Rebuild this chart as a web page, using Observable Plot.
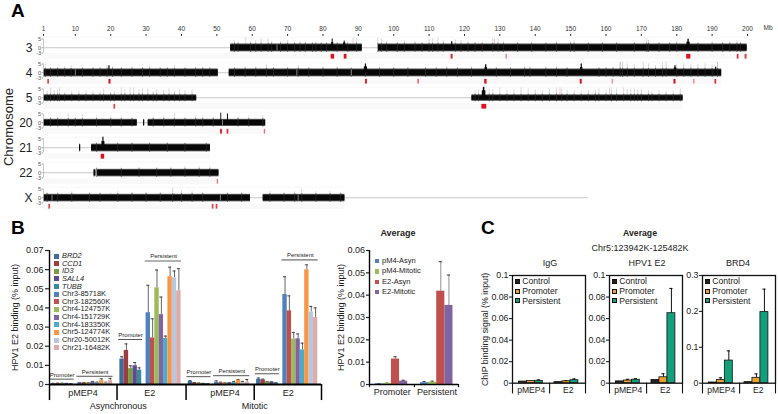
<!DOCTYPE html>
<html><head><meta charset="utf-8">
<script src="https://cdn.jsdelivr.net/npm/d3@7"></script>
<script src="https://cdn.jsdelivr.net/npm/@observablehq/plot@0.6"></script>
<style>
html,body{margin:0;padding:0;background:#fff}
#root{position:relative;width:778px;height:414px;overflow:hidden;font-family:"Liberation Sans",Arial,sans-serif;color:#222}
#root svg{position:absolute}
.t{position:absolute;white-space:nowrap;line-height:1}
.sw{position:absolute}
</style></head><body><div id="root"></div>
<script>
// ---------- Panel A data (Mb) ----------
const chromosomes = ["3","4","5","20","21","22","X"];
const chromEnds   = [200,192.7,181.8,63.8,48.2,50.6,155];
const tickMb      = [1,10,20,30,40,50,60,70,80,90,100,110,120,130,140,150,160,170,180,190,200];
const regions3  = [[53.9,91.1],[95.7,199.9]];
const regions4  = [[1.2,50.4],[53.5,192.7]];
const regions5  = [[1.2,44.3],[122.1,181.8]];
const regions20 = [[1.2,27.5],[29.3,29.6],[30.6,63.8]];
const regions21 = [[11.2,11.5],[14.6,48.2]];
const regions22 = [[15.3,15.8],[16.3,50.6]];
const regionsX  = [[1.2,59.5],[63.1,86.2]];
const bandTop   = [1.6,1.6,1.1,1.4,1.5,1.4,1.4];
const bandLow   = [-1.8,-1.8,-1.5,-1.6,-1.8,-1.8,-1.8];
const notches3 = [67,92.9], notches4 = [10,72.6,88], notches20 = [51.6], notches5 = [], notchesX = [3.4,51,73], notches21 = [], notches22 = [];
const spikes3 = [[55,4],[56,3.5],[59.5,3.5],[61,4],[62.5,5],[64.5,5],[65.5,3.5],[68,3.5],[70,4],[72,3],[73.5,3.5],[75,3.2],[77,3],[78,3.4],[79.5,3],[81,3],[84,3.2],[87,3.2],[89.5,5],[95.5,5.5],[96.5,5],[98,3.5],[101,3],[103,4],[106,3.5],[108,3],[110,5],[111,5],[112.5,5.5],[114,4],[117.5,4.5],[119,4],[121,3.5],[123,3],[125,3.2],[128,5],[129.5,5],[131,3.5],[135,3],[139,3.2],[143,3],[146,3.5],[150,3.2],[151,4],[155,3],[159,3],[163,3.2],[168,3],[171.5,5],[172,4.2],[175,3],[178,3],[180,3.5],[186,3],[190,3.5],[193,3],[195,3.5],[197,4],[198,3]];
const spikes4 = [[1.5,5],[3,3],[5,3],[7,3.5],[8.8,4],[12,2.8],[15,3],[17,3.2],[19,4],[20.5,3.5],[23,3],[26,3.5],[29,3],[31,3.5],[34,3.2],[36,3],[38,4],[41,3],[44,3.2],[46,3],[48,3.2],[55,3],[58,3.5],[61,3.5],[64,4.5],[66,3],[70,3],[73,4],[76,3],[80,3.5],[84,3.5],[88,3],[92,3],[96,3.2],[100,3],[104,3],[109,3],[112,3.2],[115,3.5],[118,3],[122,3.5],[129,3],[133,3.2],[137,3.5],[138.5,3.5],[143,3.5],[146,3.5],[149,3.2],[158,3],[160,3],[162,3.2],[164,6],[164.7,6],[166,5],[168,4.5],[170.5,6],[172,5],[174,4],[176,5.5],[177,6],[180,5],[182,5],[184,4.5],[186,4.5],[188,5],[190,4.5],[191.5,6]];
const spikes5 = [[2,3.5],[3,5.5],[4,4],[5,4.5],[5.5,5.5],[7,3],[9,3.5],[11,3.5],[13,4],[15,3.5],[17,3.5],[18,5],[20,3],[21,3.5],[23,5.5],[24,4.5],[25.5,5.5],[26.5,5.5],[28,4.5],[29,5],[30.5,5],[32,3.5],[33,4.5],[35,4],[36.5,5],[38,3.5],[39.5,4.5],[41,4],[43,4.5],[123,4],[124,4.5],[127,5],[128,4.5],[130,5.5],[132,4],[134,4.5],[136,5.5],[138,5],[140,4.5],[142,4],[144,4.5],[146,5.5],[147.5,5],[149,4],[151,4],[153,3.5],[155,4],[157,4],[158,5],[160,4],[161.5,5.5],[163,5],[165,5.5],[167,5],[168,5],[169,4.5],[170,5],[172,4],[173,3.5],[175,4],[177,3.5],[179,3.5],[181,5]];
const spikes20 = [[3,3],[5,3],[8,5],[10,2.8],[12,4.5],[16,3.5],[20,3.2],[23,3],[26,3],[32,3],[35,3.2],[38,5.5],[41,3],[44,3.5],[46,3.5],[49,3.2],[56,3],[59,3.5],[63,4]];
const spikes21 = [[16,3],[22,3],[26,3],[31,3],[36,3],[41,2.8],[47,3]];
const spikes22 = [[16,3],[23,2.8],[28,3],[33,3],[37,3.2],[41,3.5],[45,3.5],[48,3.2]];
const spikesX  = [[2,3],[5,3.2],[9,3.5],[14,3],[17,3],[22,3.5],[26,3],[30,3],[34,3],[37.5,5.5],[40,4],[43,3.5],[46,3.2],[53,3],[57,3],[65,3.5],[69,3],[72,3.5],[74,5],[78,3.5],[82,3.5],[85,3]];
const pinkSpikes3 = [[58.2,5.8],[88.5,5.5],[128.5,5]], pinkSpikes4 = [[66,2.5],[73,2.5],[191.5,6],[164,6]], pinkSpikes5 = [[147,5.5],[161,5.5],[166,5]], pinkSpikesX = [[20,2.6],[26,2.6],[30,2.6],[38,2.6]];
// [chromosome, peak position, peak height, peak strength]
const peaks = [["3",82.6,5,1],["3",82.6,3,2],["3",86,3.8,1],["3",86,2.8,2.2],["3",116.4,3.4,1.2],["3",183.2,4.8,1.4],["3",183.2,3.2,3.2],["4",19.5,4,1.2],["4",92,5,1.2],["4",92,3.4,3.2],["4",126,4.6,1.3],["4",126,3,2.4],["4",153,5,1.2],["4",153,3,2.4],["4",179.5,4,1.2],["4",179.5,2.8,2.2],["4",191,3.2,1.2],["5",125.4,6,1.6],["5",125.4,4,3.6],["20",51.1,5.5,.9],["20",53,5,1],["21",17.8,6,1.2],["21",17.8,3.6,3]];
// [chromosome, start, end, opacity]
const redMarks = [["3",82.4,83.2,1],["3",86.1,86.7,1],["3",116.3,116.7,.9],["3",131.8,132.1,.45],["3",182.9,183.9,1],["3",197.2,197.5,.9],["3",199.4,199.8,.8],
 ["4",2.3,2.6,.8],["4",19.6,20,1],["4",92.1,92.5,.9],["4",106.9,107.2,.6],["4",125.8,126.3,1],["4",152.8,153.2,1],["4",161.8,162.1,.4],["4",179.3,179.7,1],["4",184.8,185.1,.4],["4",190.9,191.2,.9],
 ["5",21,21.3,.8],["5",125,126.2,1],["20",51.1,51.5,.9],["20",53,53.3,.9],["20",63.5,63.7,.6],["21",17.4,18.2,1],["22",50.2,50.4,.6],["X",2.6,2.9,.8],["X",48.8,49.1,.8],["X",49.9,50.2,.8]];

// ---------- Panel B data ----------
const siteNames = ["BRD2","CCD1","ID3","SALL4","TUBB","Chr3-85718K","Chr3-182560K","Chr4-124757K","Chr4-151729K","Chr4-183350K","Chr5-124774K","Chr20-50012K","Chr21-16482K"];
const siteColors = ["#3f6c9c","#9c3d40","#7c9a42","#5f4b8b","#3a8a9e","#4f81bd","#c0504d","#9bbb59","#8064a2","#4bacc6","#f79646","#b9c6de","#dcabab"];
const groupNames = ["pMEP4","E2","pMEP4","E2"];
const asynPMEP4  = [.0004,.0005,.0005,.0004,.0003,.0008,.0008,.0008,.0012,.0008,.002,.0008,.0022];
const asynPMEP4E = [.0006,.0007,.0007,.0006,.0005,.001,.001,.001,.0016,.0012,.003,.0012,.0032];
const asynE2     = [.0133,.0178,.0083,.0098,.0075,.0375,.0243,.0505,.0365,.024,.0563,.0557,.049];
const asynE2E    = [.0145,.0212,.0098,.0115,.0087,.0518,.0343,.0598,.0457,.0253,.0613,.0593,.0605];
const mitPMEP4   = [.0016,.0008,.0006,.0004,.0004,.0012,.0008,.0008,.0008,.001,.0022,.001,.0012];
const mitPMEP4E  = [.002,.001,.0008,.0006,.0005,.0019,.0012,.001,.001,.0016,.0026,.0016,.0026];
const mitE2      = [.0027,.0024,.0013,.0012,.0008,.047,.0385,.0237,.0239,.0181,.0599,.0378,.035];
const mitE2E     = [.0034,.0028,.0015,.0014,.001,.0563,.0463,.0272,.0264,.0216,.0625,.0408,.04];
// group, label, line level
const bracketRows = [[0,"Promoter",.0028],[0,"Persistent",.0043],[1,"Promoter",.0235],[1,"Persistent",.0645],[2,"Promoter",.0041],[2,"Persistent",.0046],[3,"Promoter",.0056],[3,"Persistent",.0651]];
// Average
const avgSeries = ["pM4-Asyn","pM4-Mitotic","E2-Asyn","E2-Mitotic"];
const avgColors = ["#4f81bd","#9bbb59","#c0504d","#8064a2"];
const avgPromoter  = [.0003,.0005,.0114,.0015];
const avgPromoterE = [.0004,.0006,.0124,.0019];
const avgPersist   = [.0008,.001,.0418,.0354];
const avgPersistE  = [.0013,.0015,.055,.049];

// ---------- Panel C data ----------
const cSeries = ["Control","Promoter","Persistent"];
const cColors = ["#222222","#e8a02e","#12a07c"];
const iggPM = [.0015,.002,.0022],  iggPME = [.0017,.0023,.0031];
const iggE2 = [.001,.0018,.0028],  iggE2E = [.0012,.0024,.004];
const hpvPM = [.0017,.0025,.0032], hpvPME = [.002,.0036,.0042];
const hpvE2 = [.003,.0055,.065],   hpvE2E = [.0034,.0088,.088];
const brdPM = [.002,.009,.063],    brdPME = [.0025,.015,.09];
const brdE2 = [.003,.015,.198],    brdE2E = [.0035,.026,.262];

const FONT = '"Liberation Sans",Arial,sans-serif';
const root = document.getElementById("root");
const noBg = (left, top) => ({background:"none", overflow:"visible", left:left+"px", top:top+"px", fontFamily:FONT, maxWidth:"none"});
function label(x, y, s, o = {}) {
  const d = document.createElement("div"); d.className = "t"; d.textContent = s;
  const a = o.anchor || "middle";
  d.style.left = x + "px"; d.style.top = y + "px";
  d.style.transform = `translate(${a === "middle" ? "-50%" : "0"},-50%)` + (o.rotate ? ` rotate(${o.rotate}deg)` : "");
  d.style.fontSize = (o.size || 9) + "px";
  if (o.bold) d.style.fontWeight = "bold";
  if (o.italic) d.style.fontStyle = "italic";
  if (o.color) d.style.color = o.color;
  root.appendChild(d);
}
function swatch(x, y, c, s, border) {
  const d = document.createElement("div"); d.className = "sw";
  d.style.cssText = `left:${x - s/2}px;top:${y - s/2}px;width:${s}px;height:${s}px;background:${c};box-sizing:border-box;` + (border ? "border:.8px solid #111;" : "");
  root.appendChild(d);
}
const fmt = d => d === 0 ? "0" : String(d);

// ---------- Panel A ----------
const regionList = [regions3,regions4,regions5,regions20,regions21,regions22,regionsX];
const spikeList  = [spikes3,spikes4,spikes5,spikes20,spikes21,spikes22,spikesX];
const notchList  = [notches3,notches4,notches5,notches20,notches21,notches22,notchesX];
const pinkList   = {"3":pinkSpikes3,"4":pinkSpikes4,"5":pinkSpikes5,"X":pinkSpikesX};
const regionRows = chromosomes.flatMap((c,i)=>regionList[i].map(([a,b])=>({chr:c,a,b,top:bandTop[i],low:bandLow[i]})));
const spikeRows  = chromosomes.flatMap((c,i)=>spikeList[i].map(([mb,h])=>({chr:c,mb,h,top:bandTop[i],low:bandLow[i]})));
const notchRows  = chromosomes.flatMap((c,i)=>notchList[i].map(mb=>({chr:c,mb,top:bandTop[i],low:bandLow[i]})));
const pinkRows   = Object.entries(pinkList).flatMap(([c,l])=>l.map(([mb,h])=>({chr:c,mb,h})));
const lengthRows = chromosomes.map((c,i)=>({chr:c,end:chromEnds[i],shade:c==="X"?86.2:chromEnds[i]}));
const peakRows   = peaks.map(([chr,mb,h,w])=>({chr,mb,h,w}));
const redRows    = redMarks.map(([chr,a,b,o])=>({chr,a,b,o}));

const pA = Plot.plot({
  width:778, height:214, marginLeft:43, marginRight:31, marginTop:35, marginBottom:4,
  x:{domain:[1,200]}, y:{domain:[-7.3,7]}, fy:{domain:chromosomes, padding:0, axis:null},
  style:noBg(0,0),
  marks:[
    Plot.rect(lengthRows,{x1:1,x2:"shade",y1:-6.8,y2:-3.4,fy:"chr",fill:"#f9f9f9"}),
    Plot.ruleY(lengthRows,{x1:1,x2:"shade",y:6,fy:"chr",stroke:"#f2f2f2",strokeWidth:.6}),
    Plot.ruleY(lengthRows,{x1:1,x2:"end",y:0,fy:"chr",stroke:"#c8c8c8",strokeWidth:1}),
    Plot.ruleX(spikeRows,{x:"mb",y1:0,y2:"h",fy:"chr",stroke:"#bbb",strokeWidth:.6}),
    Plot.ruleX(pinkRows,{x:"mb",y1:0,y2:"h",fy:"chr",stroke:"#dba6a6",strokeWidth:.6}),
    Plot.rect(regionRows,{x1:"a",x2:"b",y1:d=>d.low-.55,y2:d=>d.top+.55,fy:"chr",fill:"#555"}),
    Plot.rect(regionRows,{x1:"a",x2:"b",y1:"low",y2:"top",fy:"chr",fill:"#070707"}),
    Plot.ruleX(spikeRows,{x:"mb",y1:d=>d.low-.9,y2:d=>d.top+.9,fy:"chr",stroke:"#333",strokeWidth:.6}),
    Plot.ruleX(peakRows,{x:"mb",y1:0,y2:"h",fy:"chr",stroke:"#0a0a0a",strokeWidth:"w"}),
    Plot.ruleX(notchRows,{x:"mb",y1:"low",y2:"top",fy:"chr",stroke:"#fff",strokeWidth:.6,strokeOpacity:.8}),
    Plot.rect(redRows,{x1:"a",x2:"b",y1:-6.5,y2:-3.8,fy:"chr",fill:"#e3101a",fillOpacity:"o",insetLeft:-.3,insetRight:-.3}),
    Plot.ruleX(lengthRows,{x:1,y1:-3,y2:5,fy:"chr",stroke:"#999",strokeWidth:.5}),
    Plot.axisY({ticks:[-3,0,5],tickFormat:fmt,tickSize:1.5,tickPadding:1,fontSize:5.5,label:null,color:"#555",strokeWidth:.5}),
    Plot.axisX({anchor:"top",ticks:tickMb,tickFormat:d=>String(d),tickSize:2,tickPadding:3,fontSize:6.5,label:null,color:"#333"}),
    Plot.axisFy({anchor:"left",tickSize:0,tickPadding:11,fontSize:12,label:null,color:"#222"})
  ]
});
root.appendChild(pA);
label(11,10,"A",{anchor:"start",size:19,bold:true,color:"#000"});
label(768,28,"Mb",{size:6.5,color:"#333"});
label(8,127,"Chromosome",{size:13,rotate:-90});

// ---------- Panel B main ----------
const SLOT = 4.37, GROUP = 15.65;
const slotOf = i => i + (i >= 5 ? 1 : 0);
const sets = [[asynPMEP4,asynPMEP4E],[asynE2,asynE2E],[mitPMEP4,mitPMEP4E],[mitE2,mitE2E]];
const bRows = sets.flatMap(([v,e],g)=>siteNames.map((site,i)=>({site,g,s:g*GROUP+slotOf(i),v:v[i],e:e[i],c:siteColors[i]})));
const brRows = bracketRows.map(([g,name,y])=>name==="Promoter"
  ? {name,y,a:g*GROUP-.3,b:g*GROUP+5.2,mid:g*GROUP+2.45}
  : {name,y,a:g*GROUP+6-.2,b:g*GROUP+14.1,mid:g*GROUP+10});
const bEdges = [-.46,15,30.8,46.4,61.8];
const bGroupRows = groupNames.map((name,g)=>({name,mid:[7.2,22.5,39.7,54.2][g]}));
const bSuperRows = [{name:"Asynchronous",mid:15.3},{name:"Mitotic",mid:46.5}];
const bLineColor = y => y > .05 ? "#999" : "#444";
const pB = Plot.plot({
  width:330, height:184, marginLeft:49, marginRight:9, marginTop:20, marginBottom:30,
  x:{domain:[-.46,61.8], axis:null}, y:{domain:[0,.07], axis:null},
  style:noBg(0,230),
  marks:[
    Plot.ruleX(bRows,{x:d=>d.s+.5,y1:"v",y2:"e",stroke:"#666",strokeWidth:1}),
    Plot.ruleY(bRows,{x1:d=>d.s+.15,x2:d=>d.s+.85,y:"e",stroke:"#333",strokeWidth:.9}),
    Plot.rect(bRows,{x1:"s",x2:d=>d.s+1,y1:0,y2:"v",fill:"c"}),
    Plot.ruleY(brRows,{x1:"a",x2:"b",y:"y",stroke:d=>bLineColor(d.y),strokeWidth:d=>d.y>.05?1.6:.9}),
    Plot.text(brRows,{x:"mid",y:"y",text:"name",dy:-4.5,fontSize:6,fill:"#222"}),
    Plot.ruleY([0],{stroke:"#000",strokeWidth:2}),
    Plot.ruleX(bEdges,{y1:0,y2:-.0084,stroke:"#000",strokeWidth:1.5}),
    Plot.ruleX([-.46],{y1:0,y2:.07,stroke:"#000",strokeWidth:1.4}),
    Plot.text(bGroupRows,{x:"mid",y:-.0047,text:"name",fontSize:9,fill:"#222"}),
    Plot.text(bSuperRows,{x:"mid",y:-.0112,text:"name",fontSize:9,fill:"#222"}),
    Plot.axisY({ticks:[0,.01,.02,.03,.04,.05,.06,.07],tickFormat:fmt,tickSize:4,tickPadding:2,fontSize:9,color:"#222",strokeWidth:1.2,
      label:"HPV1 E2 binding (% input)",labelAnchor:"center",labelArrow:"none",labelOffset:38})
  ]
});
root.appendChild(pB);
label(11,227,"B",{anchor:"start",size:19,bold:true,color:"#000"});
siteNames.forEach((s,i)=>{
  const y = 256 + i*7.64;
  swatch(56.5,y,siteColors[i],5);
  label(62,y,s,{anchor:"start",size:7.4,italic:i<5});
});

// ---------- Panel B average ----------
const PERS = 5.57;
const avgRows = [[avgPromoter,avgPromoterE,0],[avgPersist,avgPersistE,PERS]]
  .flatMap(([v,e,off])=>avgSeries.map((n,i)=>({n,s:off+i,v:v[i],e:e[i],c:avgColors[i]})));
const pAvg = Plot.plot({
  width:140, height:184, marginLeft:49, marginRight:2, marginTop:20, marginBottom:30,
  x:{domain:[-.7,10.25],axis:null}, y:{domain:[0,.06],axis:null},
  style:noBg(320,230),
  marks:[
    Plot.ruleX(avgRows,{x:d=>d.s+.5,y1:"v",y2:"e",stroke:"#999",strokeWidth:1.1}),
    Plot.ruleY(avgRows,{x1:d=>d.s+.3,x2:d=>d.s+.7,y:"e",stroke:"#222",strokeWidth:.9}),
    Plot.rect(avgRows,{x1:"s",x2:d=>d.s+1,y1:0,y2:"v",fill:"c"}),
    Plot.ruleY([0],{stroke:"#000",strokeWidth:1.6}),
    Plot.ruleX([-.7,4.83,10.25],{y1:0,y2:-.0014,stroke:"#000",strokeWidth:1.2}),
    Plot.ruleX([-.7],{y1:0,y2:.06,stroke:"#000",strokeWidth:1.4}),
    Plot.text([{n:"Promoter",m:2.1},{n:"Persistent",m:7.6}],{x:"m",y:-.0036,text:"n",fontSize:9,fill:"#222"}),
    Plot.axisY({ticks:[0,.01,.02,.03,.04,.05,.06],tickFormat:fmt,tickSize:3,tickPadding:1.5,fontSize:9,color:"#222",strokeWidth:1.2,
      label:"HPV1 E2 binding (% input)",labelAnchor:"center",labelArrow:"none",labelOffset:32})
  ]
});
root.appendChild(pAvg);
label(398,233,"Average",{size:9,bold:true});
avgSeries.forEach((s,i)=>{
  const y = 261 + i*10.4;
  swatch(377,y,avgColors[i],4.5);
  label(382,y,s,{anchor:"start",size:7.5});
});

// ---------- Panel C ----------
const E2OFF = 4.46;
function cPanel(left, yMax, yTicks, pm, pmE, e2, e2E, withLabel) {
  const rows = [[pm,pmE,0],[e2,e2E,E2OFF]].flatMap(([v,e,off])=>cSeries.map((n,i)=>({n,s:off+i,v:v[i],e:e[i],c:cColors[i]})));
  const p = Plot.plot({
    width:116, height:150, marginLeft:40, marginRight:3, marginTop:20, marginBottom:22.3,
    x:{domain:[-.8,8.35],axis:null}, y:{domain:[0,yMax],axis:null},
    style:noBg(left-40,255),
    marks:[
      Plot.ruleX(rows.filter(d=>d.e-d.v>yMax*.004),{x:d=>d.s+.5,y1:"v",y2:"e",stroke:"#111",strokeWidth:1}),
      Plot.ruleY(rows.filter(d=>d.e-d.v>yMax*.004),{x1:d=>d.s+.3,x2:d=>d.s+.7,y:"e",stroke:"#111",strokeWidth:1}),
      Plot.rect(rows,{x1:"s",x2:d=>d.s+1,y1:0,y2:"v",fill:"c",stroke:"#111",strokeWidth:.8}),
      Plot.frame({stroke:"#111",strokeWidth:1.3}),
      Plot.ruleX([-.8,3.85,8.35],{y1:0,y2:-yMax*.1,stroke:"#111",strokeWidth:1.1}),
      Plot.text([{n:"pMEP4",m:1.55},{n:"E2",m:6.2}],{x:"m",y:-yMax*.068,text:"n",fontSize:8.6,fill:"#222"}),
      Plot.axisY({ticks:yTicks,tickFormat:fmt,tickSize:3,tickPadding:1,fontSize:8.8,color:"#222",strokeWidth:1.1,
        label:withLabel?"ChIP binding signal (% input)":null,labelAnchor:"center",labelArrow:"none",labelOffset:31})
    ]
  });
  root.appendChild(p);
  cSeries.forEach((s,i)=>{
    const y = 281.3 + i*9.7;
    swatch(left+5,y,cColors[i],5,true);
    label(left+10.3,y,s,{anchor:"start",size:8.6});
  });
}
cPanel(512,.1,[0,.02,.04,.06,.08,.1],iggPM,iggPME,iggE2,iggE2E,true);
cPanel(609,.1,[0,.02,.04,.06,.08,.1],hpvPM,hpvPME,hpvE2,hpvE2E,false);
cPanel(702,.3,[0,.1,.2,.3],brdPM,brdPME,brdE2,brdE2E,false);
label(481,227,"C",{anchor:"start",size:19,bold:true,color:"#000"});
label(640,233,"Average",{size:8.7,bold:true});
label(640,248,"Chr5:123942K-125482K",{size:9});
label(550,263,"IgG",{size:9});
label(647,263,"HPV1 E2",{size:9});
label(738,263,"BRD4",{size:9});
</script></body></html>
